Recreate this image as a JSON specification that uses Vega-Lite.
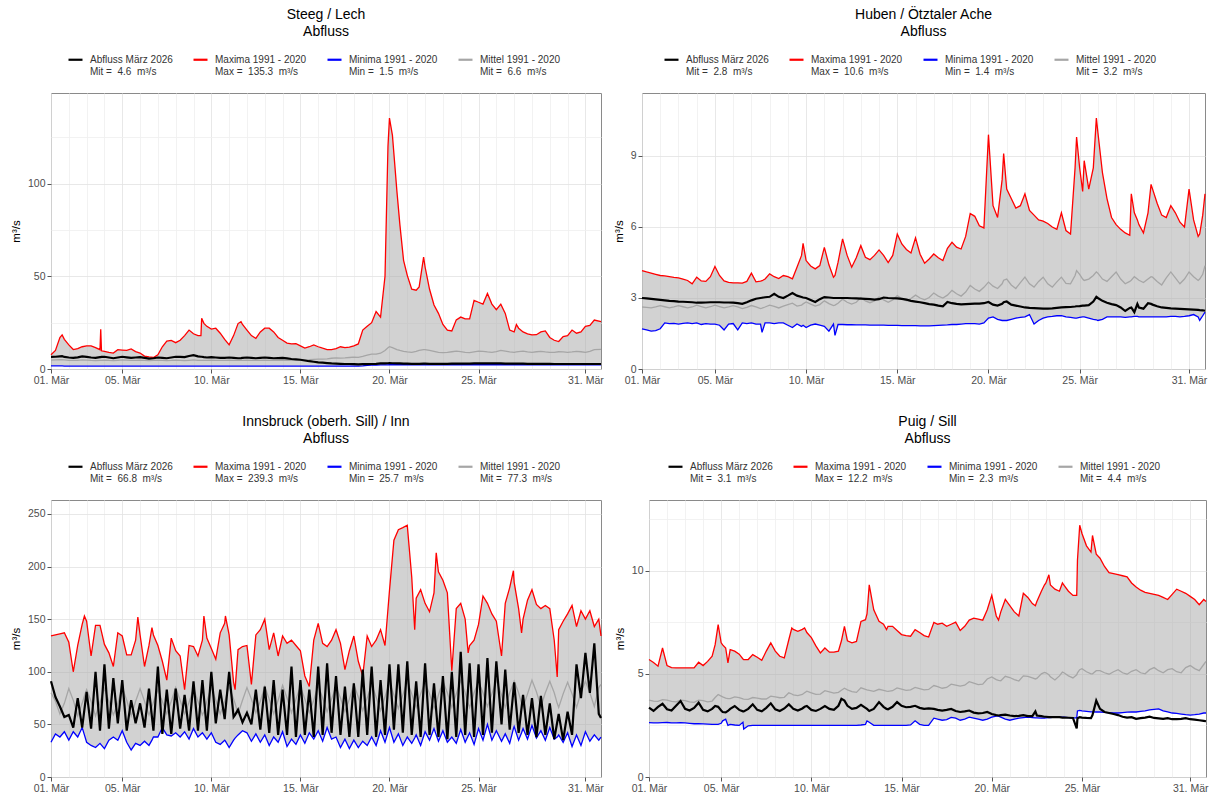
{
"$schema": "https://vega.github.io/schema/vega-lite/v6.json",
"autosize": {"type": "none"},
"padding": {"left": 51, "top": 93, "right": 1159, "bottom": 701},
"config": {
  "font": "Liberation Sans",
  "view": {"stroke": "#8a8a8a", "strokeWidth": 1},
  "axis": {"domain": false, "labelColor": "#4d4d4d", "labelFontSize": 10.5, "tickColor": "#555555", "tickSize": 4, "tickWidth": 1, "titleFontWeight": "normal", "titleColor": "#000000", "titleFontSize": 11.5, "gridWidth": 0.8, "labelPadding": 2},
  "legend": {"direction": "horizontal", "columns": 4, "symbolType": "stroke", "symbolSize": 196, "symbolStrokeWidth": 2.2, "labelFontSize": 10, "labelColor": "#333333", "labelOffset": 6, "columnPadding": 16, "labelLimit": 300},
  "title": {"fontSize": 14, "fontWeight": "normal", "color": "#000000", "anchor": "middle", "frame": "group", "offset": 12, "lineHeight": 17}
},
"datasets": {
"s": [
{"t":"2026-03-01T00:00","mx":7.7,"mn":1.7,"mw":4.8,"q":6.5},
{"t":"2026-03-01T06:00","mx":10,"mn":1.7,"mw":4.9,"q":6.6},
{"t":"2026-03-01T12:00","mx":17,"mn":1.7,"mw":5.0,"q":6.8},
{"t":"2026-03-01T15:00","mx":18.4,"mn":1.7,"mw":5.0,"q":6.9},
{"t":"2026-03-01T18:00","mx":16,"mn":1.6,"mw":4.9,"q":6.5},
{"t":"2026-03-02T00:00","mx":13,"mn":1.6,"mw":4.7,"q":6.2},
{"t":"2026-03-02T06:00","mx":10.5,"mn":1.6,"mw":4.6,"q":6.0},
{"t":"2026-03-02T12:00","mx":11,"mn":1.6,"mw":4.7,"q":6.3},
{"t":"2026-03-02T18:00","mx":12,"mn":1.6,"mw":4.9,"q":6.8},
{"t":"2026-03-03T00:00","mx":12.5,"mn":1.6,"mw":4.8,"q":6.5},
{"t":"2026-03-03T06:00","mx":12.5,"mn":1.6,"mw":4.6,"q":6.2},
{"t":"2026-03-03T12:00","mx":11.5,"mn":1.6,"mw":4.5,"q":6.0},
{"t":"2026-03-03T18:00","mx":10.4,"mn":1.6,"mw":4.7,"q":6.4},
{"t":"2026-03-03T19:00","mx":21.4,"mn":1.6,"mw":4.7,"q":6.4},
{"t":"2026-03-03T20:00","mx":9.8,"mn":1.6,"mw":4.7,"q":6.5},
{"t":"2026-03-04T00:00","mx":9.5,"mn":1.6,"mw":4.8,"q":6.6},
{"t":"2026-03-04T06:00","mx":9.0,"mn":1.6,"mw":4.6,"q":6.2},
{"t":"2026-03-04T12:00","mx":8.6,"mn":1.6,"mw":4.5,"q":5.8},
{"t":"2026-03-04T18:00","mx":10.4,"mn":1.6,"mw":4.7,"q":6.2},
{"t":"2026-03-05T00:00","mx":10.2,"mn":1.6,"mw":4.9,"q":6.6},
{"t":"2026-03-05T06:00","mx":10,"mn":1.5,"mw":4.8,"q":6.3},
{"t":"2026-03-05T12:00","mx":10.8,"mn":1.5,"mw":4.6,"q":6.0},
{"t":"2026-03-05T18:00","mx":9.4,"mn":1.5,"mw":4.7,"q":6.2},
{"t":"2026-03-06T00:00","mx":8.6,"mn":1.5,"mw":4.8,"q":6.4},
{"t":"2026-03-06T06:00","mx":7.0,"mn":1.5,"mw":4.6,"q":6.0},
{"t":"2026-03-06T12:00","mx":6.5,"mn":1.5,"mw":4.5,"q":5.6},
{"t":"2026-03-06T18:00","mx":6.2,"mn":1.5,"mw":4.6,"q":5.8},
{"t":"2026-03-07T00:00","mx":7.7,"mn":1.5,"mw":4.8,"q":6.2},
{"t":"2026-03-07T06:00","mx":12,"mn":1.5,"mw":4.7,"q":6.0},
{"t":"2026-03-07T12:00","mx":15,"mn":1.5,"mw":4.5,"q":5.8},
{"t":"2026-03-07T18:00","mx":15.4,"mn":1.5,"mw":4.6,"q":6.2},
{"t":"2026-03-08T00:00","mx":14.2,"mn":1.5,"mw":4.8,"q":6.6},
{"t":"2026-03-08T06:00","mx":15.5,"mn":1.5,"mw":4.7,"q":6.5},
{"t":"2026-03-08T12:00","mx":18,"mn":1.5,"mw":4.5,"q":6.4},
{"t":"2026-03-08T18:00","mx":21,"mn":1.5,"mw":4.7,"q":7.0},
{"t":"2026-03-09T00:00","mx":19,"mn":1.5,"mw":4.9,"q":7.5},
{"t":"2026-03-09T06:00","mx":18,"mn":1.5,"mw":4.7,"q":6.8},
{"t":"2026-03-09T10:00","mx":18,"mn":1.5,"mw":4.7,"q":6.6},
{"t":"2026-03-09T11:00","mx":27.3,"mn":1.5,"mw":4.7,"q":6.6},
{"t":"2026-03-09T14:00","mx":24.6,"mn":1.5,"mw":4.6,"q":6.4},
{"t":"2026-03-09T18:00","mx":23,"mn":1.5,"mw":4.6,"q":6.2},
{"t":"2026-03-10T00:00","mx":21.5,"mn":1.5,"mw":4.8,"q":6.4},
{"t":"2026-03-10T06:00","mx":22,"mn":1.5,"mw":4.7,"q":6.2},
{"t":"2026-03-10T12:00","mx":19.3,"mn":1.5,"mw":4.6,"q":6.0},
{"t":"2026-03-10T18:00","mx":16,"mn":1.5,"mw":4.7,"q":6.0},
{"t":"2026-03-11T00:00","mx":13,"mn":1.5,"mw":4.8,"q":6.2},
{"t":"2026-03-11T06:00","mx":18,"mn":1.5,"mw":4.7,"q":6.0},
{"t":"2026-03-11T12:00","mx":24.5,"mn":1.5,"mw":4.6,"q":5.8},
{"t":"2026-03-11T16:00","mx":25.5,"mn":1.5,"mw":4.6,"q":5.9},
{"t":"2026-03-11T18:00","mx":24,"mn":1.5,"mw":4.7,"q":6.0},
{"t":"2026-03-12T00:00","mx":21,"mn":1.5,"mw":4.8,"q":6.2},
{"t":"2026-03-12T06:00","mx":18,"mn":1.5,"mw":4.7,"q":6.0},
{"t":"2026-03-12T12:00","mx":16.5,"mn":1.5,"mw":4.6,"q":5.8},
{"t":"2026-03-12T18:00","mx":20,"mn":1.5,"mw":4.7,"q":6.0},
{"t":"2026-03-13T00:00","mx":22,"mn":1.5,"mw":4.8,"q":6.2},
{"t":"2026-03-13T06:00","mx":22,"mn":1.5,"mw":4.7,"q":6.0},
{"t":"2026-03-13T12:00","mx":20,"mn":1.5,"mw":4.6,"q":5.8},
{"t":"2026-03-13T18:00","mx":17,"mn":1.5,"mw":4.7,"q":5.9},
{"t":"2026-03-14T00:00","mx":15.5,"mn":1.5,"mw":4.8,"q":6.0},
{"t":"2026-03-14T06:00","mx":14,"mn":1.5,"mw":4.7,"q":5.7},
{"t":"2026-03-14T12:00","mx":13.5,"mn":1.5,"mw":4.7,"q":5.4},
{"t":"2026-03-14T18:00","mx":13.6,"mn":1.5,"mw":4.9,"q":5.2},
{"t":"2026-03-15T00:00","mx":12.5,"mn":1.5,"mw":5.0,"q":5.0},
{"t":"2026-03-15T06:00","mx":11.3,"mn":1.5,"mw":4.9,"q":4.6},
{"t":"2026-03-15T12:00","mx":12,"mn":1.5,"mw":5.0,"q":4.2},
{"t":"2026-03-15T18:00","mx":13,"mn":1.5,"mw":5.2,"q":3.9},
{"t":"2026-03-16T00:00","mx":12,"mn":1.5,"mw":5.3,"q":3.6},
{"t":"2026-03-16T06:00","mx":11.2,"mn":1.5,"mw":5.3,"q":3.4},
{"t":"2026-03-16T12:00","mx":10.5,"mn":1.5,"mw":5.5,"q":3.2},
{"t":"2026-03-16T18:00","mx":10.4,"mn":1.5,"mw":5.8,"q":3.0},
{"t":"2026-03-17T00:00","mx":11,"mn":1.5,"mw":6.0,"q":2.9},
{"t":"2026-03-17T06:00","mx":12,"mn":1.5,"mw":5.9,"q":2.8},
{"t":"2026-03-17T12:00","mx":11.5,"mn":1.5,"mw":6.0,"q":2.7},
{"t":"2026-03-17T18:00","mx":11.8,"mn":1.5,"mw":6.2,"q":2.7},
{"t":"2026-03-18T00:00","mx":12.5,"mn":1.5,"mw":6.4,"q":2.6},
{"t":"2026-03-18T06:00","mx":13.5,"mn":1.5,"mw":6.3,"q":2.5},
{"t":"2026-03-18T12:00","mx":21,"mn":1.7,"mw":6.8,"q":2.6},
{"t":"2026-03-18T18:00","mx":23,"mn":2.0,"mw":7.5,"q":2.6},
{"t":"2026-03-19T00:00","mx":25,"mn":2.1,"mw":8.0,"q":2.7},
{"t":"2026-03-19T06:00","mx":31,"mn":2.1,"mw":8.0,"q":2.8},
{"t":"2026-03-19T12:00","mx":28,"mn":2.2,"mw":8.5,"q":3.0},
{"t":"2026-03-19T18:00","mx":50,"mn":2.2,"mw":10,"q":3.0},
{"t":"2026-03-19T22:00","mx":120,"mn":2.2,"mw":11.5,"q":3.1},
{"t":"2026-03-20T00:00","mx":135.3,"mn":2.3,"mw":12,"q":3.2},
{"t":"2026-03-20T04:00","mx":126,"mn":2.3,"mw":11.5,"q":3.1},
{"t":"2026-03-20T10:00","mx":96,"mn":2.3,"mw":10.5,"q":3.0},
{"t":"2026-03-20T14:00","mx":78,"mn":2.3,"mw":10,"q":3.0},
{"t":"2026-03-20T19:00","mx":58.6,"mn":2.3,"mw":9.5,"q":2.9},
{"t":"2026-03-21T00:00","mx":50.5,"mn":2.3,"mw":9.2,"q":2.9},
{"t":"2026-03-21T06:00","mx":43,"mn":2.3,"mw":9.0,"q":2.8},
{"t":"2026-03-21T12:00","mx":42.5,"mn":2.3,"mw":9.5,"q":2.8},
{"t":"2026-03-21T16:00","mx":44.3,"mn":2.3,"mw":10,"q":2.8},
{"t":"2026-03-21T22:00","mx":60.4,"mn":2.3,"mw":10.5,"q":2.9},
{"t":"2026-03-22T00:00","mx":55,"mn":2.3,"mw":10.5,"q":2.9},
{"t":"2026-03-22T06:00","mx":43,"mn":2.3,"mw":10,"q":2.8},
{"t":"2026-03-22T12:00","mx":34.5,"mn":2.3,"mw":9.5,"q":2.8},
{"t":"2026-03-22T18:00","mx":30,"mn":2.3,"mw":9.0,"q":2.8},
{"t":"2026-03-23T00:00","mx":24,"mn":2.3,"mw":8.8,"q":2.8},
{"t":"2026-03-23T06:00","mx":21,"mn":2.3,"mw":9.0,"q":2.8},
{"t":"2026-03-23T12:00","mx":20.5,"mn":2.3,"mw":9.3,"q":2.9},
{"t":"2026-03-23T18:00","mx":26.5,"mn":2.3,"mw":9.6,"q":2.9},
{"t":"2026-03-24T00:00","mx":28,"mn":2.3,"mw":9.4,"q":2.9},
{"t":"2026-03-24T06:00","mx":27,"mn":2.3,"mw":9.0,"q":2.9},
{"t":"2026-03-24T12:00","mx":27,"mn":2.3,"mw":8.8,"q":2.9},
{"t":"2026-03-24T18:00","mx":37,"mn":2.3,"mw":9.2,"q":3.0},
{"t":"2026-03-25T00:00","mx":36,"mn":2.3,"mw":9.6,"q":3.0},
{"t":"2026-03-25T06:00","mx":35,"mn":2.3,"mw":9.5,"q":3.0},
{"t":"2026-03-25T12:00","mx":40.7,"mn":2.3,"mw":9.2,"q":3.0},
{"t":"2026-03-25T18:00","mx":35,"mn":2.3,"mw":9.0,"q":3.0},
{"t":"2026-03-26T00:00","mx":32,"mn":2.3,"mw":9.4,"q":3.0},
{"t":"2026-03-26T06:00","mx":35,"mn":2.3,"mw":10,"q":3.0},
{"t":"2026-03-26T12:00","mx":30,"mn":2.3,"mw":9.6,"q":2.9},
{"t":"2026-03-26T18:00","mx":21,"mn":2.3,"mw":9.2,"q":2.9},
{"t":"2026-03-27T00:00","mx":20,"mn":2.3,"mw":9.0,"q":2.9},
{"t":"2026-03-27T03:00","mx":24,"mn":2.3,"mw":9.2,"q":2.9},
{"t":"2026-03-27T06:00","mx":22,"mn":2.3,"mw":9.4,"q":2.9},
{"t":"2026-03-27T12:00","mx":20,"mn":2.3,"mw":9.6,"q":2.9},
{"t":"2026-03-27T18:00","mx":19,"mn":2.2,"mw":9.2,"q":2.8},
{"t":"2026-03-28T00:00","mx":18.4,"mn":2.2,"mw":9.0,"q":2.8},
{"t":"2026-03-28T06:00","mx":18.5,"mn":2.2,"mw":9.3,"q":2.8},
{"t":"2026-03-28T12:00","mx":20,"mn":2.2,"mw":9.5,"q":2.8},
{"t":"2026-03-28T18:00","mx":20.5,"mn":2.2,"mw":9.2,"q":2.8},
{"t":"2026-03-29T00:00","mx":17,"mn":2.2,"mw":9.0,"q":2.8},
{"t":"2026-03-29T06:00","mx":15.5,"mn":2.2,"mw":9.0,"q":2.7},
{"t":"2026-03-29T12:00","mx":14.8,"mn":2.2,"mw":9.3,"q":2.7},
{"t":"2026-03-29T18:00","mx":17.5,"mn":2.2,"mw":9.2,"q":2.7},
{"t":"2026-03-30T00:00","mx":18,"mn":2.2,"mw":9.0,"q":2.7},
{"t":"2026-03-30T06:00","mx":21,"mn":2.2,"mw":9.2,"q":2.7},
{"t":"2026-03-30T12:00","mx":19.3,"mn":2.2,"mw":9.5,"q":2.7},
{"t":"2026-03-30T18:00","mx":20,"mn":2.2,"mw":9.3,"q":2.7},
{"t":"2026-03-31T00:00","mx":23,"mn":2.2,"mw":9.0,"q":2.7},
{"t":"2026-03-31T06:00","mx":23.5,"mn":2.2,"mw":9.5,"q":2.7},
{"t":"2026-03-31T12:00","mx":26.4,"mn":2.2,"mw":10.5,"q":2.7},
{"t":"2026-03-31T21:00","mx":25.5,"mn":2.2,"mw":10.6,"q":2.7}
],
"h": [
{"t":"2026-03-01T00:00","mx":4.16,"mn":1.70,"mw":2.62,"q":3.00},
{"t":"2026-03-01T06:00","mx":4.10,"mn":1.65,"mw":2.60,"q":2.98},
{"t":"2026-03-01T12:00","mx":4.05,"mn":1.60,"mw":2.58,"q":2.96},
{"t":"2026-03-01T18:00","mx":4.00,"mn":1.62,"mw":2.62,"q":2.94},
{"t":"2026-03-02T00:00","mx":3.95,"mn":1.70,"mw":2.68,"q":2.92},
{"t":"2026-03-02T06:00","mx":3.93,"mn":1.95,"mw":2.63,"q":2.90},
{"t":"2026-03-02T12:00","mx":3.90,"mn":1.92,"mw":2.58,"q":2.88},
{"t":"2026-03-02T18:00","mx":3.87,"mn":1.93,"mw":2.62,"q":2.87},
{"t":"2026-03-03T00:00","mx":3.85,"mn":1.90,"mw":2.68,"q":2.85},
{"t":"2026-03-03T06:00","mx":3.80,"mn":1.93,"mw":2.63,"q":2.84},
{"t":"2026-03-03T12:00","mx":3.74,"mn":1.95,"mw":2.58,"q":2.83},
{"t":"2026-03-03T18:00","mx":3.60,"mn":1.92,"mw":2.62,"q":2.82},
{"t":"2026-03-04T00:00","mx":3.88,"mn":1.95,"mw":2.70,"q":2.80},
{"t":"2026-03-04T06:00","mx":3.72,"mn":1.88,"mw":2.64,"q":2.80},
{"t":"2026-03-04T12:00","mx":3.70,"mn":1.92,"mw":2.58,"q":2.81},
{"t":"2026-03-04T18:00","mx":3.90,"mn":1.90,"mw":2.63,"q":2.82},
{"t":"2026-03-05T00:00","mx":4.33,"mn":1.90,"mw":2.70,"q":2.82},
{"t":"2026-03-05T06:00","mx":3.95,"mn":1.85,"mw":2.64,"q":2.82},
{"t":"2026-03-05T12:00","mx":3.72,"mn":1.65,"mw":2.58,"q":2.81},
{"t":"2026-03-05T18:00","mx":3.66,"mn":1.90,"mw":2.62,"q":2.81},
{"t":"2026-03-06T00:00","mx":3.64,"mn":1.92,"mw":2.68,"q":2.80},
{"t":"2026-03-06T06:00","mx":3.64,"mn":1.65,"mw":2.62,"q":2.78},
{"t":"2026-03-06T12:00","mx":3.63,"mn":1.95,"mw":2.55,"q":2.75},
{"t":"2026-03-06T18:00","mx":3.70,"mn":1.92,"mw":2.60,"q":2.82},
{"t":"2026-03-07T00:00","mx":4.05,"mn":1.95,"mw":2.68,"q":2.90},
{"t":"2026-03-07T06:00","mx":3.68,"mn":1.90,"mw":2.62,"q":2.97},
{"t":"2026-03-07T12:00","mx":3.71,"mn":1.90,"mw":2.55,"q":3.00},
{"t":"2026-03-07T14:00","mx":3.73,"mn":1.55,"mw":2.57,"q":3.01},
{"t":"2026-03-07T18:00","mx":3.80,"mn":1.95,"mw":2.62,"q":3.03},
{"t":"2026-03-08T00:00","mx":4.02,"mn":1.95,"mw":2.70,"q":3.05},
{"t":"2026-03-08T06:00","mx":3.90,"mn":1.92,"mw":2.65,"q":3.18},
{"t":"2026-03-08T12:00","mx":3.82,"mn":1.95,"mw":2.58,"q":3.05},
{"t":"2026-03-08T18:00","mx":3.95,"mn":1.95,"mw":2.66,"q":3.00},
{"t":"2026-03-09T00:00","mx":3.90,"mn":1.85,"mw":2.72,"q":3.10},
{"t":"2026-03-09T06:00","mx":3.81,"mn":1.75,"mw":2.78,"q":3.21},
{"t":"2026-03-09T12:00","mx":4.30,"mn":1.90,"mw":2.66,"q":3.10},
{"t":"2026-03-09T18:00","mx":4.80,"mn":1.80,"mw":2.70,"q":3.04},
{"t":"2026-03-09T20:00","mx":5.31,"mn":1.85,"mw":2.75,"q":3.02},
{"t":"2026-03-10T00:00","mx":4.58,"mn":1.75,"mw":2.83,"q":3.00},
{"t":"2026-03-10T06:00","mx":4.35,"mn":1.85,"mw":2.74,"q":2.92},
{"t":"2026-03-10T12:00","mx":4.23,"mn":1.90,"mw":2.66,"q":2.83},
{"t":"2026-03-10T18:00","mx":4.37,"mn":1.85,"mw":2.72,"q":2.95},
{"t":"2026-03-11T00:00","mx":5.14,"mn":1.80,"mw":2.88,"q":3.04},
{"t":"2026-03-11T06:00","mx":4.40,"mn":1.60,"mw":2.76,"q":3.02},
{"t":"2026-03-11T12:00","mx":3.88,"mn":1.90,"mw":2.68,"q":3.00},
{"t":"2026-03-11T14:00","mx":3.95,"mn":1.42,"mw":2.70,"q":3.00},
{"t":"2026-03-11T18:00","mx":4.50,"mn":1.88,"mw":2.78,"q":3.00},
{"t":"2026-03-12T00:00","mx":5.50,"mn":1.88,"mw":2.95,"q":3.00},
{"t":"2026-03-12T06:00","mx":4.80,"mn":1.87,"mw":2.82,"q":3.00},
{"t":"2026-03-12T12:00","mx":4.30,"mn":1.87,"mw":2.74,"q":2.99},
{"t":"2026-03-12T18:00","mx":4.70,"mn":1.86,"mw":2.82,"q":2.98},
{"t":"2026-03-13T00:00","mx":5.21,"mn":1.86,"mw":3.02,"q":2.97},
{"t":"2026-03-13T06:00","mx":4.72,"mn":1.86,"mw":2.88,"q":2.96},
{"t":"2026-03-13T12:00","mx":4.62,"mn":1.85,"mw":2.80,"q":2.95},
{"t":"2026-03-13T18:00","mx":4.80,"mn":1.85,"mw":2.88,"q":2.93},
{"t":"2026-03-14T00:00","mx":5.03,"mn":1.85,"mw":3.04,"q":2.95},
{"t":"2026-03-14T06:00","mx":4.80,"mn":1.85,"mw":2.92,"q":3.02},
{"t":"2026-03-14T12:00","mx":4.50,"mn":1.84,"mw":2.82,"q":3.00},
{"t":"2026-03-14T18:00","mx":4.80,"mn":1.84,"mw":2.92,"q":2.99},
{"t":"2026-03-15T00:00","mx":5.70,"mn":1.84,"mw":3.10,"q":2.98},
{"t":"2026-03-15T06:00","mx":5.28,"mn":1.83,"mw":2.97,"q":2.96},
{"t":"2026-03-15T12:00","mx":5.05,"mn":1.83,"mw":2.88,"q":2.93},
{"t":"2026-03-15T18:00","mx":4.90,"mn":1.83,"mw":2.98,"q":2.88},
{"t":"2026-03-16T00:00","mx":5.54,"mn":1.83,"mw":3.12,"q":2.85},
{"t":"2026-03-16T06:00","mx":4.85,"mn":1.82,"mw":3.00,"q":2.82},
{"t":"2026-03-16T12:00","mx":4.47,"mn":1.82,"mw":2.92,"q":2.78},
{"t":"2026-03-16T18:00","mx":4.65,"mn":1.82,"mw":3.02,"q":2.74},
{"t":"2026-03-17T00:00","mx":4.86,"mn":1.83,"mw":3.21,"q":2.72},
{"t":"2026-03-17T06:00","mx":4.70,"mn":1.84,"mw":3.08,"q":2.68},
{"t":"2026-03-17T12:00","mx":4.58,"mn":1.85,"mw":3.00,"q":2.65},
{"t":"2026-03-17T18:00","mx":5.10,"mn":1.86,"mw":3.12,"q":2.83},
{"t":"2026-03-18T00:00","mx":5.35,"mn":1.88,"mw":3.32,"q":2.78},
{"t":"2026-03-18T06:00","mx":5.15,"mn":1.88,"mw":3.18,"q":2.75},
{"t":"2026-03-18T12:00","mx":5.07,"mn":1.90,"mw":3.08,"q":2.73},
{"t":"2026-03-18T18:00","mx":5.60,"mn":1.92,"mw":3.25,"q":2.74},
{"t":"2026-03-19T00:00","mx":6.57,"mn":1.92,"mw":3.53,"q":2.75},
{"t":"2026-03-19T06:00","mx":6.45,"mn":1.92,"mw":3.38,"q":2.76},
{"t":"2026-03-19T12:00","mx":6.05,"mn":1.90,"mw":3.28,"q":2.76},
{"t":"2026-03-19T18:00","mx":5.96,"mn":1.95,"mw":3.45,"q":2.78},
{"t":"2026-03-20T00:00","mx":9.90,"mn":2.15,"mw":3.67,"q":2.83},
{"t":"2026-03-20T06:00","mx":6.90,"mn":2.20,"mw":3.50,"q":2.72},
{"t":"2026-03-20T12:00","mx":6.40,"mn":2.10,"mw":3.40,"q":2.68},
{"t":"2026-03-20T18:00","mx":8.00,"mn":2.05,"mw":3.60,"q":2.75},
{"t":"2026-03-20T20:00","mx":9.10,"mn":2.05,"mw":3.75,"q":2.82},
{"t":"2026-03-21T00:00","mx":7.60,"mn":2.05,"mw":3.80,"q":2.85},
{"t":"2026-03-21T06:00","mx":7.20,"mn":2.10,"mw":3.55,"q":2.72},
{"t":"2026-03-21T12:00","mx":6.80,"mn":2.15,"mw":3.40,"q":2.68},
{"t":"2026-03-21T18:00","mx":6.90,"mn":2.18,"mw":3.65,"q":2.64},
{"t":"2026-03-22T00:00","mx":7.40,"mn":2.20,"mw":3.88,"q":2.60},
{"t":"2026-03-22T06:00","mx":6.70,"mn":2.30,"mw":3.60,"q":2.58},
{"t":"2026-03-22T12:00","mx":6.50,"mn":1.90,"mw":3.46,"q":2.57},
{"t":"2026-03-22T18:00","mx":6.30,"mn":2.05,"mw":3.70,"q":2.56},
{"t":"2026-03-23T00:00","mx":6.25,"mn":2.15,"mw":3.88,"q":2.55},
{"t":"2026-03-23T06:00","mx":6.15,"mn":2.20,"mw":3.60,"q":2.55},
{"t":"2026-03-23T12:00","mx":6.00,"mn":2.22,"mw":3.46,"q":2.56},
{"t":"2026-03-23T18:00","mx":5.90,"mn":2.25,"mw":3.68,"q":2.58},
{"t":"2026-03-24T00:00","mx":6.60,"mn":2.25,"mw":3.88,"q":2.60},
{"t":"2026-03-24T06:00","mx":5.85,"mn":2.20,"mw":3.62,"q":2.61},
{"t":"2026-03-24T12:00","mx":5.70,"mn":2.18,"mw":3.60,"q":2.62},
{"t":"2026-03-24T18:00","mx":8.50,"mn":2.15,"mw":3.95,"q":2.64},
{"t":"2026-03-24T20:00","mx":9.80,"mn":2.15,"mw":4.16,"q":2.65},
{"t":"2026-03-25T00:00","mx":8.50,"mn":2.18,"mw":4.00,"q":2.66},
{"t":"2026-03-25T04:00","mx":7.50,"mn":2.20,"mw":3.80,"q":2.68},
{"t":"2026-03-25T06:00","mx":8.80,"mn":2.20,"mw":3.74,"q":2.68},
{"t":"2026-03-25T12:00","mx":7.60,"mn":2.15,"mw":3.80,"q":2.70},
{"t":"2026-03-25T18:00","mx":8.50,"mn":2.10,"mw":3.95,"q":2.85},
{"t":"2026-03-25T22:00","mx":10.60,"mn":2.08,"mw":4.10,"q":3.05},
{"t":"2026-03-26T00:00","mx":10.00,"mn":2.05,"mw":4.05,"q":3.00},
{"t":"2026-03-26T06:00","mx":8.30,"mn":2.10,"mw":3.80,"q":2.88},
{"t":"2026-03-26T12:00","mx":7.20,"mn":2.20,"mw":3.70,"q":2.80},
{"t":"2026-03-26T18:00","mx":6.40,"mn":2.20,"mw":3.90,"q":2.74},
{"t":"2026-03-27T00:00","mx":6.10,"mn":2.20,"mw":4.10,"q":2.70},
{"t":"2026-03-27T06:00","mx":5.90,"mn":2.20,"mw":3.80,"q":2.60},
{"t":"2026-03-27T12:00","mx":5.75,"mn":2.18,"mw":3.60,"q":2.45},
{"t":"2026-03-27T18:00","mx":5.65,"mn":2.20,"mw":3.70,"q":2.58},
{"t":"2026-03-27T20:00","mx":7.40,"mn":2.20,"mw":3.75,"q":2.60},
{"t":"2026-03-28T00:00","mx":6.60,"mn":2.22,"mw":3.90,"q":2.40},
{"t":"2026-03-28T04:00","mx":6.30,"mn":2.22,"mw":3.80,"q":2.75},
{"t":"2026-03-28T06:00","mx":6.10,"mn":2.20,"mw":3.75,"q":2.60},
{"t":"2026-03-28T12:00","mx":5.75,"mn":2.20,"mw":3.65,"q":2.55},
{"t":"2026-03-28T18:00","mx":6.60,"mn":2.20,"mw":3.80,"q":2.78},
{"t":"2026-03-28T22:00","mx":7.80,"mn":2.20,"mw":3.90,"q":2.75},
{"t":"2026-03-29T00:00","mx":7.60,"mn":2.20,"mw":3.88,"q":2.72},
{"t":"2026-03-29T06:00","mx":7.00,"mn":2.20,"mw":3.70,"q":2.65},
{"t":"2026-03-29T12:00","mx":6.50,"mn":2.20,"mw":3.55,"q":2.60},
{"t":"2026-03-29T18:00","mx":6.40,"mn":2.20,"mw":3.85,"q":2.58},
{"t":"2026-03-30T00:00","mx":6.90,"mn":2.22,"mw":4.10,"q":2.56},
{"t":"2026-03-30T06:00","mx":6.60,"mn":2.22,"mw":3.85,"q":2.55},
{"t":"2026-03-30T12:00","mx":6.20,"mn":2.20,"mw":3.60,"q":2.54},
{"t":"2026-03-30T18:00","mx":6.00,"mn":2.22,"mw":3.80,"q":2.53},
{"t":"2026-03-31T00:00","mx":7.60,"mn":2.25,"mw":4.10,"q":2.52},
{"t":"2026-03-31T06:00","mx":6.30,"mn":2.30,"mw":3.90,"q":2.51},
{"t":"2026-03-31T12:00","mx":5.60,"mn":2.20,"mw":3.74,"q":2.50},
{"t":"2026-03-31T14:00","mx":5.70,"mn":2.05,"mw":3.80,"q":2.49},
{"t":"2026-03-31T18:00","mx":6.50,"mn":2.25,"mw":4.00,"q":2.48},
{"t":"2026-03-31T21:00","mx":7.40,"mn":2.40,"mw":4.37,"q":2.46}
],
"i": [
{"t":"2026-03-01T00:00","mx":134,"mn":33,"mw":80,"q":91},
{"t":"2026-03-01T06:00","mx":135,"mn":41,"mw":72,"q":76},
{"t":"2026-03-01T12:00","mx":136,"mn":38,"mw":60,"q":67},
{"t":"2026-03-01T18:00","mx":137,"mn":43,"mw":70,"q":57},
{"t":"2026-03-02T00:00","mx":128,"mn":35,"mw":84,"q":59},
{"t":"2026-03-02T06:00","mx":100,"mn":43,"mw":73,"q":47},
{"t":"2026-03-02T12:00","mx":125,"mn":38,"mw":58,"q":75},
{"t":"2026-03-02T18:00","mx":145,"mn":47,"mw":70,"q":47},
{"t":"2026-03-02T21:00","mx":153,"mn":40,"mw":77,"q":64},
{"t":"2026-03-03T00:00","mx":148,"mn":33,"mw":83,"q":81},
{"t":"2026-03-03T06:00","mx":115,"mn":30,"mw":72,"q":46},
{"t":"2026-03-03T12:00","mx":144,"mn":28,"mw":58,"q":100},
{"t":"2026-03-03T18:00","mx":144,"mn":32,"mw":71,"q":44},
{"t":"2026-03-04T00:00","mx":126,"mn":27,"mw":84,"q":107},
{"t":"2026-03-04T06:00","mx":118,"mn":35,"mw":72,"q":46},
{"t":"2026-03-04T12:00","mx":105,"mn":38,"mw":59,"q":94},
{"t":"2026-03-04T18:00","mx":137,"mn":35,"mw":70,"q":51},
{"t":"2026-03-05T00:00","mx":134,"mn":44,"mw":85,"q":92},
{"t":"2026-03-05T06:00","mx":116,"mn":33,"mw":73,"q":44},
{"t":"2026-03-05T12:00","mx":116,"mn":25.7,"mw":58,"q":73},
{"t":"2026-03-05T18:00","mx":130,"mn":32,"mw":72,"q":51},
{"t":"2026-03-05T21:00","mx":152,"mn":31,"mw":78,"q":60},
{"t":"2026-03-06T00:00","mx":135,"mn":30,"mw":84,"q":70},
{"t":"2026-03-06T06:00","mx":105,"mn":34,"mw":72,"q":47},
{"t":"2026-03-06T12:00","mx":125,"mn":30,"mw":59,"q":84},
{"t":"2026-03-06T16:00","mx":142,"mn":35,"mw":67,"q":57},
{"t":"2026-03-06T18:00","mx":135,"mn":38,"mw":71,"q":44},
{"t":"2026-03-07T00:00","mx":125,"mn":38,"mw":83,"q":105},
{"t":"2026-03-07T06:00","mx":110,"mn":47,"mw":72,"q":41},
{"t":"2026-03-07T12:00","mx":92,"mn":40,"mw":60,"q":83},
{"t":"2026-03-07T18:00","mx":132,"mn":39,"mw":72,"q":41},
{"t":"2026-03-08T00:00","mx":120,"mn":42,"mw":85,"q":84},
{"t":"2026-03-08T06:00","mx":115,"mn":38,"mw":73,"q":46},
{"t":"2026-03-08T12:00","mx":83,"mn":43,"mw":60,"q":78},
{"t":"2026-03-08T18:00","mx":125,"mn":36,"mw":71,"q":44},
{"t":"2026-03-09T00:00","mx":124,"mn":46,"mw":84,"q":91},
{"t":"2026-03-09T06:00","mx":115,"mn":38,"mw":72,"q":44},
{"t":"2026-03-09T12:00","mx":130,"mn":42,"mw":59,"q":92},
{"t":"2026-03-09T14:00","mx":153,"mn":40,"mw":62,"q":76},
{"t":"2026-03-09T18:00","mx":132,"mn":36,"mw":72,"q":44},
{"t":"2026-03-10T00:00","mx":122,"mn":42,"mw":85,"q":100},
{"t":"2026-03-10T06:00","mx":112,"mn":33,"mw":73,"q":51},
{"t":"2026-03-10T12:00","mx":137,"mn":31,"mw":60,"q":83},
{"t":"2026-03-10T18:00","mx":146,"mn":35,"mw":72,"q":55},
{"t":"2026-03-10T19:00","mx":153,"mn":34,"mw":74,"q":63},
{"t":"2026-03-11T00:00","mx":135,"mn":28,"mw":86,"q":100},
{"t":"2026-03-11T06:00","mx":90,"mn":35,"mw":74,"q":57},
{"t":"2026-03-11T08:00","mx":83,"mn":37,"mw":70,"q":59},
{"t":"2026-03-11T12:00","mx":121,"mn":40,"mw":60,"q":64},
{"t":"2026-03-11T18:00","mx":124,"mn":44,"mw":73,"q":52},
{"t":"2026-03-12T00:00","mx":125,"mn":42,"mw":85,"q":61},
{"t":"2026-03-12T06:00","mx":88,"mn":34,"mw":74,"q":50},
{"t":"2026-03-12T12:00","mx":135,"mn":41,"mw":61,"q":83},
{"t":"2026-03-12T18:00","mx":140,"mn":33,"mw":72,"q":45},
{"t":"2026-03-13T00:00","mx":150,"mn":40,"mw":86,"q":86},
{"t":"2026-03-13T06:00","mx":121,"mn":30,"mw":74,"q":42},
{"t":"2026-03-13T12:00","mx":137,"mn":38,"mw":60,"q":92},
{"t":"2026-03-13T18:00","mx":115,"mn":33,"mw":73,"q":40},
{"t":"2026-03-14T00:00","mx":134,"mn":43,"mw":87,"q":83},
{"t":"2026-03-14T06:00","mx":127,"mn":29,"mw":75,"q":40},
{"t":"2026-03-14T12:00","mx":130,"mn":36,"mw":61,"q":105},
{"t":"2026-03-14T18:00","mx":125,"mn":31,"mw":74,"q":38},
{"t":"2026-03-15T00:00","mx":120,"mn":40,"mw":86,"q":92},
{"t":"2026-03-15T06:00","mx":96,"mn":32,"mw":74,"q":40},
{"t":"2026-03-15T12:00","mx":86,"mn":42,"mw":61,"q":83},
{"t":"2026-03-15T18:00","mx":130,"mn":36,"mw":73,"q":38},
{"t":"2026-03-16T00:00","mx":146,"mn":44,"mw":87,"q":105},
{"t":"2026-03-16T06:00","mx":127,"mn":34,"mw":75,"q":40},
{"t":"2026-03-16T12:00","mx":124,"mn":47,"mw":62,"q":108},
{"t":"2026-03-16T18:00","mx":130,"mn":36,"mw":74,"q":42},
{"t":"2026-03-17T00:00","mx":140,"mn":38,"mw":86,"q":96},
{"t":"2026-03-17T06:00","mx":127,"mn":28,"mw":75,"q":40},
{"t":"2026-03-17T12:00","mx":102,"mn":36,"mw":62,"q":86},
{"t":"2026-03-17T18:00","mx":120,"mn":27,"mw":74,"q":38},
{"t":"2026-03-18T00:00","mx":134,"mn":35,"mw":88,"q":89},
{"t":"2026-03-18T06:00","mx":110,"mn":28,"mw":76,"q":38},
{"t":"2026-03-18T12:00","mx":96,"mn":34,"mw":63,"q":102},
{"t":"2026-03-18T18:00","mx":134,"mn":30,"mw":75,"q":40},
{"t":"2026-03-19T00:00","mx":124,"mn":38,"mw":88,"q":105},
{"t":"2026-03-19T06:00","mx":130,"mn":30,"mw":76,"q":38},
{"t":"2026-03-19T12:00","mx":140,"mn":44,"mw":63,"q":92},
{"t":"2026-03-19T18:00","mx":125,"mn":33,"mw":76,"q":40},
{"t":"2026-03-20T00:00","mx":177,"mn":47,"mw":90,"q":107},
{"t":"2026-03-20T06:00","mx":225,"mn":33,"mw":78,"q":45},
{"t":"2026-03-20T12:00","mx":235,"mn":41,"mw":65,"q":107},
{"t":"2026-03-20T18:00","mx":237,"mn":30,"mw":78,"q":42},
{"t":"2026-03-21T00:00","mx":239.3,"mn":38,"mw":91,"q":110},
{"t":"2026-03-21T06:00","mx":190,"mn":32,"mw":79,"q":40},
{"t":"2026-03-21T10:00","mx":140,"mn":37,"mw":70,"q":74},
{"t":"2026-03-21T12:00","mx":170,"mn":40,"mw":66,"q":91},
{"t":"2026-03-21T18:00","mx":178,"mn":30,"mw":79,"q":38},
{"t":"2026-03-22T00:00","mx":165,"mn":43,"mw":90,"q":108},
{"t":"2026-03-22T06:00","mx":157,"mn":35,"mw":79,"q":40},
{"t":"2026-03-22T12:00","mx":175,"mn":46,"mw":65,"q":89},
{"t":"2026-03-22T15:00","mx":213,"mn":40,"mw":70,"q":63},
{"t":"2026-03-22T18:00","mx":195,"mn":34,"mw":78,"q":38},
{"t":"2026-03-23T00:00","mx":187,"mn":44,"mw":91,"q":96},
{"t":"2026-03-23T06:00","mx":175,"mn":33,"mw":80,"q":36},
{"t":"2026-03-23T12:00","mx":101,"mn":38,"mw":66,"q":100},
{"t":"2026-03-23T18:00","mx":160,"mn":32,"mw":79,"q":38},
{"t":"2026-03-24T00:00","mx":165,"mn":45,"mw":92,"q":119},
{"t":"2026-03-24T06:00","mx":150,"mn":33,"mw":80,"q":40},
{"t":"2026-03-24T10:00","mx":118,"mn":39,"mw":70,"q":85},
{"t":"2026-03-24T12:00","mx":125,"mn":42,"mw":66,"q":108},
{"t":"2026-03-24T18:00","mx":130,"mn":31,"mw":80,"q":38},
{"t":"2026-03-25T00:00","mx":145,"mn":46,"mw":91,"q":107},
{"t":"2026-03-25T06:00","mx":172,"mn":35,"mw":80,"q":40},
{"t":"2026-03-25T12:00","mx":165,"mn":50,"mw":67,"q":113},
{"t":"2026-03-25T18:00","mx":155,"mn":35,"mw":79,"q":42},
{"t":"2026-03-26T00:00","mx":148,"mn":44,"mw":92,"q":110},
{"t":"2026-03-26T07:00","mx":115,"mn":34,"mw":78,"q":50},
{"t":"2026-03-26T12:00","mx":165,"mn":41,"mw":66,"q":102},
{"t":"2026-03-26T18:00","mx":180,"mn":32,"mw":80,"q":45},
{"t":"2026-03-26T23:00","mx":196,"mn":46,"mw":89,"q":82},
{"t":"2026-03-27T00:00","mx":185,"mn":48,"mw":91,"q":90},
{"t":"2026-03-27T06:00","mx":160,"mn":35,"mw":80,"q":42},
{"t":"2026-03-27T10:00","mx":137,"mn":42,"mw":70,"q":66},
{"t":"2026-03-27T12:00","mx":150,"mn":46,"mw":66,"q":78},
{"t":"2026-03-27T18:00","mx":168,"mn":36,"mw":79,"q":40},
{"t":"2026-03-28T00:00","mx":178,"mn":49,"mw":92,"q":75},
{"t":"2026-03-28T06:00","mx":164,"mn":37,"mw":81,"q":38},
{"t":"2026-03-28T12:00","mx":160,"mn":44,"mw":67,"q":77},
{"t":"2026-03-28T18:00","mx":163,"mn":35,"mw":80,"q":40},
{"t":"2026-03-29T00:00","mx":160,"mn":47,"mw":91,"q":70},
{"t":"2026-03-29T06:00","mx":130,"mn":36,"mw":80,"q":36},
{"t":"2026-03-29T10:00","mx":95,"mn":38,"mw":70,"q":52},
{"t":"2026-03-29T12:00","mx":140,"mn":40,"mw":66,"q":60},
{"t":"2026-03-29T18:00","mx":148,"mn":33,"mw":79,"q":35},
{"t":"2026-03-30T00:00","mx":155,"mn":42,"mw":90,"q":62},
{"t":"2026-03-30T06:00","mx":163,"mn":29,"mw":79,"q":40},
{"t":"2026-03-30T12:00","mx":143,"mn":40,"mw":66,"q":107},
{"t":"2026-03-30T18:00","mx":158,"mn":30,"mw":80,"q":75},
{"t":"2026-03-31T00:00","mx":150,"mn":43,"mw":91,"q":118},
{"t":"2026-03-31T06:00","mx":158,"mn":34,"mw":80,"q":80},
{"t":"2026-03-31T12:00","mx":143,"mn":40,"mw":67,"q":127},
{"t":"2026-03-31T18:00","mx":150,"mn":35,"mw":85,"q":60},
{"t":"2026-03-31T21:00","mx":134,"mn":38,"mw":88,"q":56}
],
"p": [
{"t":"2026-03-01T00:00","mx":5.69,"mn":2.63,"mw":3.73,"q":3.36},
{"t":"2026-03-01T06:00","mx":5.55,"mn":2.62,"mw":3.68,"q":3.20},
{"t":"2026-03-01T12:00","mx":5.37,"mn":2.62,"mw":3.66,"q":3.40},
{"t":"2026-03-01T18:00","mx":6.25,"mn":2.63,"mw":3.75,"q":3.55},
{"t":"2026-03-02T00:00","mx":5.40,"mn":2.64,"mw":3.72,"q":3.28},
{"t":"2026-03-02T06:00","mx":5.30,"mn":2.62,"mw":3.66,"q":3.22},
{"t":"2026-03-02T12:00","mx":5.29,"mn":2.62,"mw":3.64,"q":3.45},
{"t":"2026-03-02T18:00","mx":5.29,"mn":2.63,"mw":3.72,"q":3.68},
{"t":"2026-03-03T00:00","mx":5.29,"mn":2.62,"mw":3.70,"q":3.30},
{"t":"2026-03-03T06:00","mx":5.29,"mn":2.60,"mw":3.64,"q":3.22},
{"t":"2026-03-03T12:00","mx":5.29,"mn":2.58,"mw":3.62,"q":3.35},
{"t":"2026-03-03T18:00","mx":5.56,"mn":2.58,"mw":3.72,"q":3.60},
{"t":"2026-03-04T00:00","mx":5.40,"mn":2.57,"mw":3.70,"q":3.25},
{"t":"2026-03-04T06:00","mx":5.60,"mn":2.56,"mw":3.64,"q":3.18},
{"t":"2026-03-04T12:00","mx":5.85,"mn":2.55,"mw":3.68,"q":3.30},
{"t":"2026-03-04T16:00","mx":6.41,"mn":2.55,"mw":3.85,"q":3.44},
{"t":"2026-03-04T20:00","mx":7.38,"mn":2.55,"mw":4.00,"q":3.40},
{"t":"2026-03-05T00:00","mx":6.50,"mn":2.60,"mw":3.92,"q":3.22},
{"t":"2026-03-05T02:00","mx":6.40,"mn":2.72,"mw":3.88,"q":3.15},
{"t":"2026-03-05T06:00","mx":6.25,"mn":2.80,"mw":3.82,"q":3.13},
{"t":"2026-03-05T09:00","mx":5.53,"mn":2.50,"mw":3.80,"q":3.20},
{"t":"2026-03-05T12:00","mx":6.17,"mn":2.55,"mw":3.80,"q":3.30},
{"t":"2026-03-05T18:00","mx":6.10,"mn":2.52,"mw":3.88,"q":3.44},
{"t":"2026-03-06T00:00","mx":5.95,"mn":2.50,"mw":3.85,"q":3.25},
{"t":"2026-03-06T05:00","mx":5.72,"mn":2.65,"mw":3.78,"q":3.18},
{"t":"2026-03-06T06:00","mx":5.69,"mn":2.32,"mw":3.77,"q":3.18},
{"t":"2026-03-06T12:00","mx":5.69,"mn":2.48,"mw":3.76,"q":3.30},
{"t":"2026-03-06T18:00","mx":5.93,"mn":2.50,"mw":3.85,"q":3.52},
{"t":"2026-03-07T00:00","mx":5.80,"mn":2.50,"mw":3.82,"q":3.25},
{"t":"2026-03-07T06:00","mx":5.65,"mn":2.50,"mw":3.78,"q":3.18},
{"t":"2026-03-07T12:00","mx":6.10,"mn":2.50,"mw":3.78,"q":3.35},
{"t":"2026-03-07T18:00","mx":6.50,"mn":2.50,"mw":3.92,"q":3.57},
{"t":"2026-03-08T00:00","mx":6.10,"mn":2.50,"mw":3.88,"q":3.28},
{"t":"2026-03-08T06:00","mx":5.85,"mn":2.50,"mw":3.84,"q":3.20},
{"t":"2026-03-08T12:00","mx":5.77,"mn":2.50,"mw":3.86,"q":3.32},
{"t":"2026-03-08T18:00","mx":6.65,"mn":2.50,"mw":4.08,"q":3.52},
{"t":"2026-03-08T22:00","mx":7.22,"mn":2.50,"mw":4.02,"q":3.38},
{"t":"2026-03-09T00:00","mx":7.15,"mn":2.50,"mw":3.98,"q":3.30},
{"t":"2026-03-09T06:00","mx":7.06,"mn":2.50,"mw":3.94,"q":3.22},
{"t":"2026-03-09T12:00","mx":7.15,"mn":2.50,"mw":4.00,"q":3.32},
{"t":"2026-03-09T15:00","mx":7.22,"mn":2.50,"mw":4.08,"q":3.40},
{"t":"2026-03-09T18:00","mx":7.00,"mn":2.50,"mw":4.16,"q":3.44},
{"t":"2026-03-10T00:00","mx":6.75,"mn":2.50,"mw":4.08,"q":3.25},
{"t":"2026-03-10T06:00","mx":6.35,"mn":2.50,"mw":4.00,"q":3.20},
{"t":"2026-03-10T12:00","mx":6.01,"mn":2.50,"mw":4.02,"q":3.30},
{"t":"2026-03-10T18:00","mx":6.25,"mn":2.50,"mw":4.18,"q":3.44},
{"t":"2026-03-11T00:00","mx":6.05,"mn":2.50,"mw":4.12,"q":3.30},
{"t":"2026-03-11T06:00","mx":6.05,"mn":2.50,"mw":4.06,"q":3.25},
{"t":"2026-03-11T12:00","mx":6.10,"mn":2.50,"mw":4.10,"q":3.45},
{"t":"2026-03-11T16:00","mx":6.60,"mn":2.50,"mw":4.20,"q":3.79},
{"t":"2026-03-11T20:00","mx":7.30,"mn":2.50,"mw":4.30,"q":3.70},
{"t":"2026-03-12T00:00","mx":6.60,"mn":2.50,"mw":4.22,"q":3.45},
{"t":"2026-03-12T06:00","mx":6.50,"mn":2.50,"mw":4.14,"q":3.30},
{"t":"2026-03-12T12:00","mx":6.57,"mn":2.50,"mw":4.10,"q":3.35},
{"t":"2026-03-12T18:00","mx":7.54,"mn":2.52,"mw":4.32,"q":3.50},
{"t":"2026-03-13T00:00","mx":7.62,"mn":2.55,"mw":4.25,"q":3.35},
{"t":"2026-03-13T02:00","mx":7.90,"mn":2.72,"mw":4.22,"q":3.30},
{"t":"2026-03-13T05:00","mx":9.31,"mn":2.65,"mw":4.20,"q":3.20},
{"t":"2026-03-13T11:00","mx":8.10,"mn":2.50,"mw":4.15,"q":3.30},
{"t":"2026-03-13T18:00","mx":7.54,"mn":2.50,"mw":4.25,"q":3.63},
{"t":"2026-03-14T00:00","mx":7.40,"mn":2.50,"mw":4.20,"q":3.40},
{"t":"2026-03-14T04:00","mx":7.14,"mn":2.50,"mw":4.16,"q":3.30},
{"t":"2026-03-14T06:00","mx":7.30,"mn":2.50,"mw":4.15,"q":3.28},
{"t":"2026-03-14T12:00","mx":7.30,"mn":2.50,"mw":4.18,"q":3.40},
{"t":"2026-03-14T18:00","mx":7.10,"mn":2.50,"mw":4.32,"q":3.63},
{"t":"2026-03-15T00:00","mx":6.90,"mn":2.50,"mw":4.26,"q":3.45},
{"t":"2026-03-15T06:00","mx":6.85,"mn":2.50,"mw":4.20,"q":3.38},
{"t":"2026-03-15T12:00","mx":6.82,"mn":2.52,"mw":4.22,"q":3.40},
{"t":"2026-03-15T18:00","mx":7.14,"mn":2.72,"mw":4.34,"q":3.45},
{"t":"2026-03-16T00:00","mx":7.00,"mn":2.55,"mw":4.28,"q":3.35},
{"t":"2026-03-16T06:00","mx":6.85,"mn":2.50,"mw":4.22,"q":3.30},
{"t":"2026-03-16T12:00","mx":6.78,"mn":2.50,"mw":4.24,"q":3.32},
{"t":"2026-03-16T19:00","mx":7.49,"mn":2.85,"mw":4.43,"q":3.30},
{"t":"2026-03-17T00:00","mx":7.40,"mn":2.80,"mw":4.38,"q":3.25},
{"t":"2026-03-17T06:00","mx":7.45,"mn":2.75,"mw":4.30,"q":3.22},
{"t":"2026-03-17T12:00","mx":7.30,"mn":2.78,"mw":4.34,"q":3.25},
{"t":"2026-03-17T18:00","mx":7.40,"mn":2.89,"mw":4.50,"q":3.30},
{"t":"2026-03-18T00:00","mx":7.50,"mn":2.85,"mw":4.45,"q":3.20},
{"t":"2026-03-18T06:00","mx":7.10,"mn":2.75,"mw":4.40,"q":3.15},
{"t":"2026-03-18T12:00","mx":7.30,"mn":2.80,"mw":4.45,"q":3.18},
{"t":"2026-03-18T18:00","mx":7.60,"mn":2.90,"mw":4.62,"q":3.22},
{"t":"2026-03-19T00:00","mx":7.70,"mn":2.85,"mw":4.55,"q":3.12},
{"t":"2026-03-19T06:00","mx":7.65,"mn":2.80,"mw":4.48,"q":3.08},
{"t":"2026-03-19T12:00","mx":7.60,"mn":2.75,"mw":4.50,"q":3.10},
{"t":"2026-03-19T18:00","mx":8.10,"mn":2.80,"mw":4.75,"q":3.15},
{"t":"2026-03-20T00:00","mx":8.80,"mn":2.90,"mw":4.85,"q":3.05},
{"t":"2026-03-20T06:00","mx":7.80,"mn":2.95,"mw":4.72,"q":3.00},
{"t":"2026-03-20T09:00","mx":7.60,"mn":2.95,"mw":4.68,"q":2.98},
{"t":"2026-03-20T12:00","mx":8.00,"mn":2.90,"mw":4.66,"q":3.00},
{"t":"2026-03-20T18:00","mx":8.60,"mn":2.80,"mw":4.88,"q":3.02},
{"t":"2026-03-21T00:00","mx":8.30,"mn":2.75,"mw":4.82,"q":2.98},
{"t":"2026-03-21T06:00","mx":8.00,"mn":2.80,"mw":4.72,"q":2.95},
{"t":"2026-03-21T12:00","mx":7.80,"mn":2.85,"mw":4.65,"q":2.96},
{"t":"2026-03-21T18:00","mx":8.90,"mn":2.88,"mw":4.90,"q":3.00},
{"t":"2026-03-22T00:00","mx":8.70,"mn":2.90,"mw":4.88,"q":2.95},
{"t":"2026-03-22T06:00","mx":8.40,"mn":2.88,"mw":4.80,"q":2.95},
{"t":"2026-03-22T10:00","mx":8.30,"mn":2.86,"mw":4.75,"q":3.18},
{"t":"2026-03-22T12:00","mx":8.50,"mn":2.86,"mw":4.78,"q":2.98},
{"t":"2026-03-22T18:00","mx":9.00,"mn":2.85,"mw":5.00,"q":2.95},
{"t":"2026-03-22T22:00","mx":9.30,"mn":2.85,"mw":5.07,"q":2.92},
{"t":"2026-03-23T00:00","mx":9.40,"mn":2.86,"mw":5.05,"q":2.92},
{"t":"2026-03-23T04:00","mx":9.80,"mn":2.88,"mw":4.95,"q":2.90},
{"t":"2026-03-23T06:00","mx":9.30,"mn":2.88,"mw":4.85,"q":2.90},
{"t":"2026-03-23T12:00","mx":9.10,"mn":2.90,"mw":4.70,"q":2.90},
{"t":"2026-03-23T18:00","mx":9.00,"mn":2.90,"mw":4.90,"q":2.90},
{"t":"2026-03-23T22:00","mx":9.40,"mn":2.90,"mw":5.08,"q":2.88},
{"t":"2026-03-24T00:00","mx":9.30,"mn":2.90,"mw":5.05,"q":2.88},
{"t":"2026-03-24T06:00","mx":9.00,"mn":2.88,"mw":4.90,"q":2.87},
{"t":"2026-03-24T12:00","mx":8.80,"mn":2.86,"mw":4.80,"q":2.86},
{"t":"2026-03-24T17:00","mx":8.80,"mn":2.86,"mw":4.95,"q":2.35},
{"t":"2026-03-24T18:00","mx":10.50,"mn":3.20,"mw":5.05,"q":2.85},
{"t":"2026-03-24T21:00","mx":12.20,"mn":3.23,"mw":5.20,"q":2.90},
{"t":"2026-03-25T00:00","mx":11.80,"mn":3.20,"mw":5.25,"q":2.88},
{"t":"2026-03-25T06:00","mx":11.20,"mn":3.18,"mw":5.10,"q":2.86},
{"t":"2026-03-25T12:00","mx":10.90,"mn":3.16,"mw":5.00,"q":2.85},
{"t":"2026-03-25T14:00","mx":11.70,"mn":3.16,"mw":5.00,"q":3.00},
{"t":"2026-03-25T19:00","mx":10.80,"mn":3.15,"mw":5.15,"q":3.70},
{"t":"2026-03-26T00:00","mx":10.60,"mn":3.15,"mw":5.15,"q":3.30},
{"t":"2026-03-26T06:00","mx":10.20,"mn":3.13,"mw":5.05,"q":3.15},
{"t":"2026-03-26T12:00","mx":9.90,"mn":3.12,"mw":4.98,"q":3.10},
{"t":"2026-03-26T18:00","mx":9.85,"mn":3.10,"mw":5.10,"q":3.05},
{"t":"2026-03-27T00:00","mx":9.80,"mn":3.10,"mw":5.20,"q":3.00},
{"t":"2026-03-27T06:00","mx":9.75,"mn":3.12,"mw":5.05,"q":2.92},
{"t":"2026-03-27T12:00","mx":9.70,"mn":3.14,"mw":4.98,"q":2.88},
{"t":"2026-03-27T18:00","mx":9.40,"mn":3.15,"mw":5.12,"q":2.90},
{"t":"2026-03-28T00:00","mx":9.20,"mn":3.15,"mw":5.20,"q":2.82},
{"t":"2026-03-28T06:00","mx":9.05,"mn":3.18,"mw":5.05,"q":2.85},
{"t":"2026-03-28T12:00","mx":8.95,"mn":3.20,"mw":5.00,"q":2.88},
{"t":"2026-03-28T18:00","mx":8.90,"mn":3.25,"mw":5.20,"q":2.92},
{"t":"2026-03-29T00:00","mx":8.85,"mn":3.28,"mw":5.30,"q":2.86},
{"t":"2026-03-29T06:00","mx":8.80,"mn":3.30,"mw":5.15,"q":2.84},
{"t":"2026-03-29T12:00","mx":8.70,"mn":3.20,"mw":5.05,"q":2.82},
{"t":"2026-03-29T18:00","mx":8.60,"mn":3.15,"mw":5.20,"q":2.85},
{"t":"2026-03-30T00:00","mx":8.85,"mn":3.10,"mw":5.25,"q":2.80},
{"t":"2026-03-30T06:00","mx":9.10,"mn":3.08,"mw":5.10,"q":2.80},
{"t":"2026-03-30T12:00","mx":9.00,"mn":3.05,"mw":5.05,"q":2.82},
{"t":"2026-03-30T18:00","mx":8.90,"mn":3.02,"mw":5.30,"q":2.85},
{"t":"2026-03-31T00:00","mx":8.75,"mn":3.00,"mw":5.40,"q":2.80},
{"t":"2026-03-31T06:00","mx":8.60,"mn":3.02,"mw":5.25,"q":2.78},
{"t":"2026-03-31T12:00","mx":8.35,"mn":3.05,"mw":5.15,"q":2.75},
{"t":"2026-03-31T18:00","mx":8.60,"mn":3.10,"mw":5.45,"q":2.72},
{"t":"2026-03-31T21:00","mx":8.50,"mn":3.10,"mw":5.60,"q":2.70}
]
},
"vconcat": [
 {"hconcat": [
  {"width": 550, "height": 276, "title": {"text": ["Steeg / Lech", "Abfluss"]}, "data": {"name": "s"},
   "encoding": {"x": {"field": "t", "type": "temporal", "title": null, "scale": {"nice": false, "domain": [{"year": 2026, "month": 3, "date": 1}, {"year": 2026, "month": 3, "date": 31, "hours": 21}]}, "axis": {"tickCount": {"interval": "day", "step": 1}, "labelExpr": "indexof([1,5,10,15,20,25,31], date(datum.value)) >= 0 ? timeFormat(datum.value, '%d. Mär') : ''", "labelOverlap": false, "labelFlush": false, "labelBound": false, "gridColor": {"condition": {"test": "indexof([1,5,10,15,20,25,31], date(datum.value)) >= 0", "value": "#e2e2e2"}, "value": "#efefef"}, "tickOpacity": {"condition": {"test": "indexof([1,5,10,15,20,25,31], date(datum.value)) >= 0", "value": 1}, "value": 0}}}},
   "layer": [
    {"mark": {"type": "area", "color": "#a6a6a6", "opacity": 0.5}, "encoding": {"y": {"field": "mn", "type": "quantitative", "title": "m³/s", "scale": {"domain": [0, 148.83], "nice": false}, "axis": {"values": [0,25,50,75,100,125], "labelExpr": "datum.value % 50 == 0 ? datum.label : ''", "gridColor": {"condition": {"test": "datum.value % 50 == 0", "value": "#e2e2e2"}, "value": "#efefef"}, "tickOpacity": {"condition": {"test": "datum.value % 50 == 0", "value": 1}, "value": 0}, "titlePadding": 6}}, "y2": {"field": "mx"}}},
    {"mark": {"type": "line", "strokeWidth": 1.3}, "encoding": {"y": {"field": "mw", "type": "quantitative", "title": "m³/s"}, "color": {"datum": "D", "type": "nominal", "scale": {"domain": ["A","B","C","D"], "range": ["#000000","#ff0000","#0000ff","#a6a6a6"]}, "legend": {"orient": "none", "legendX": 16, "legendY": -42, "title": null, "labelExpr": "datum.label == 'A' ? ['Abfluss März 2026', 'Mit =\u00a0 4.6\u00a0 m³/s'] : datum.label == 'B' ? ['Maxima 1991 - 2020', 'Max =\u00a0 135.3\u00a0 m³/s'] : datum.label == 'C' ? ['Minima 1991 - 2020', 'Min =\u00a0 1.5\u00a0 m³/s'] : ['Mittel 1991 - 2020', 'Mit =\u00a0 6.6\u00a0 m³/s']"}}}},
    {"mark": {"type": "line", "strokeWidth": 1.3}, "encoding": {"y": {"field": "mx", "type": "quantitative", "title": "m³/s"}, "color": {"datum": "B", "type": "nominal", "scale": {"domain": ["A","B","C","D"], "range": ["#000000","#ff0000","#0000ff","#a6a6a6"]}}}},
    {"mark": {"type": "line", "strokeWidth": 1.3}, "encoding": {"y": {"field": "mn", "type": "quantitative", "title": "m³/s"}, "color": {"datum": "C", "type": "nominal", "scale": {"domain": ["A","B","C","D"], "range": ["#000000","#ff0000","#0000ff","#a6a6a6"]}}}},
    {"mark": {"type": "line", "strokeWidth": 2.2}, "encoding": {"y": {"field": "q", "type": "quantitative", "title": "m³/s"}, "color": {"datum": "A", "type": "nominal", "scale": {"domain": ["A","B","C","D"], "range": ["#000000","#ff0000","#0000ff","#a6a6a6"]}}}}
   ]},
  {"width": 563, "height": 276, "title": {"text": ["Huben / Ötztaler Ache", "Abfluss"]}, "data": {"name": "h"},
   "encoding": {"x": {"field": "t", "type": "temporal", "title": null, "scale": {"nice": false, "domain": [{"year": 2026, "month": 3, "date": 1}, {"year": 2026, "month": 3, "date": 31, "hours": 21}]}, "axis": {"tickCount": {"interval": "day", "step": 1}, "labelExpr": "indexof([1,5,10,15,20,25,31], date(datum.value)) >= 0 ? timeFormat(datum.value, '%d. Mär') : ''", "labelOverlap": false, "labelFlush": false, "labelBound": false, "gridColor": {"condition": {"test": "indexof([1,5,10,15,20,25,31], date(datum.value)) >= 0", "value": "#e2e2e2"}, "value": "#efefef"}, "tickOpacity": {"condition": {"test": "indexof([1,5,10,15,20,25,31], date(datum.value)) >= 0", "value": 1}, "value": 0}}}},
   "layer": [
    {"mark": {"type": "area", "color": "#a6a6a6", "opacity": 0.5}, "encoding": {"y": {"field": "mn", "type": "quantitative", "title": "m³/s", "scale": {"domain": [0, 11.66], "nice": false}, "axis": {"values": [0,1.5,3,4.5,6,7.5,9,10.5], "labelExpr": "datum.value % 3 == 0 ? datum.label : ''", "gridColor": {"condition": {"test": "datum.value % 3 == 0", "value": "#e2e2e2"}, "value": "#efefef"}, "tickOpacity": {"condition": {"test": "datum.value % 3 == 0", "value": 1}, "value": 0}, "titlePadding": 6}}, "y2": {"field": "mx"}}},
    {"mark": {"type": "line", "strokeWidth": 1.3}, "encoding": {"y": {"field": "mw", "type": "quantitative", "title": "m³/s"}, "color": {"datum": "D", "type": "nominal", "scale": {"domain": ["A","B","C","D"], "range": ["#000000","#ff0000","#0000ff","#a6a6a6"]}, "legend": {"orient": "none", "legendX": 21, "legendY": -42, "title": null, "labelExpr": "datum.label == 'A' ? ['Abfluss März 2026', 'Mit =\u00a0 2.8\u00a0 m³/s'] : datum.label == 'B' ? ['Maxima 1991 - 2020', 'Max =\u00a0 10.6\u00a0 m³/s'] : datum.label == 'C' ? ['Minima 1991 - 2020', 'Min =\u00a0 1.4\u00a0 m³/s'] : ['Mittel 1991 - 2020', 'Mit =\u00a0 3.2\u00a0 m³/s']"}}}},
    {"mark": {"type": "line", "strokeWidth": 1.3}, "encoding": {"y": {"field": "mx", "type": "quantitative", "title": "m³/s"}, "color": {"datum": "B", "type": "nominal", "scale": {"domain": ["A","B","C","D"], "range": ["#000000","#ff0000","#0000ff","#a6a6a6"]}}}},
    {"mark": {"type": "line", "strokeWidth": 1.3}, "encoding": {"y": {"field": "mn", "type": "quantitative", "title": "m³/s"}, "color": {"datum": "C", "type": "nominal", "scale": {"domain": ["A","B","C","D"], "range": ["#000000","#ff0000","#0000ff","#a6a6a6"]}}}},
    {"mark": {"type": "line", "strokeWidth": 2.2}, "encoding": {"y": {"field": "q", "type": "quantitative", "title": "m³/s"}, "color": {"datum": "A", "type": "nominal", "scale": {"domain": ["A","B","C","D"], "range": ["#000000","#ff0000","#0000ff","#a6a6a6"]}}}}
   ]}
 ], "spacing": 41, "bounds": "flush", "resolve": {"scale": {"color": "independent"}, "legend": {"color": "independent"}}},
 {"hconcat": [
  {"width": 550, "height": 277, "title": {"text": ["Innsbruck (oberh. Sill) / Inn", "Abfluss"]}, "data": {"name": "i"},
   "encoding": {"x": {"field": "t", "type": "temporal", "title": null, "scale": {"nice": false, "domain": [{"year": 2026, "month": 3, "date": 1}, {"year": 2026, "month": 3, "date": 31, "hours": 21}]}, "axis": {"tickCount": {"interval": "day", "step": 1}, "labelExpr": "indexof([1,5,10,15,20,25,31], date(datum.value)) >= 0 ? timeFormat(datum.value, '%d. Mär') : ''", "labelOverlap": false, "labelFlush": false, "labelBound": false, "gridColor": {"condition": {"test": "indexof([1,5,10,15,20,25,31], date(datum.value)) >= 0", "value": "#e2e2e2"}, "value": "#efefef"}, "tickOpacity": {"condition": {"test": "indexof([1,5,10,15,20,25,31], date(datum.value)) >= 0", "value": 1}, "value": 0}}}},
   "layer": [
    {"mark": {"type": "area", "color": "#a6a6a6", "opacity": 0.5}, "encoding": {"y": {"field": "mn", "type": "quantitative", "title": "m³/s", "scale": {"domain": [0, 263.23], "nice": false}, "axis": {"values": [0,25,50,75,100,125,150,175,200,225,250], "labelExpr": "datum.value % 50 == 0 ? datum.label : ''", "gridColor": {"condition": {"test": "datum.value % 50 == 0", "value": "#e2e2e2"}, "value": "#efefef"}, "tickOpacity": {"condition": {"test": "datum.value % 50 == 0", "value": 1}, "value": 0}, "titlePadding": 6}}, "y2": {"field": "mx"}}},
    {"mark": {"type": "line", "strokeWidth": 1.3}, "encoding": {"y": {"field": "mw", "type": "quantitative", "title": "m³/s"}, "color": {"datum": "D", "type": "nominal", "scale": {"domain": ["A","B","C","D"], "range": ["#000000","#ff0000","#0000ff","#a6a6a6"]}, "legend": {"orient": "none", "legendX": 16, "legendY": -42, "title": null, "labelExpr": "datum.label == 'A' ? ['Abfluss März 2026', 'Mit =\u00a0 66.8\u00a0 m³/s'] : datum.label == 'B' ? ['Maxima 1991 - 2020', 'Max =\u00a0 239.3\u00a0 m³/s'] : datum.label == 'C' ? ['Minima 1991 - 2020', 'Min =\u00a0 25.7\u00a0 m³/s'] : ['Mittel 1991 - 2020', 'Mit =\u00a0 77.3\u00a0 m³/s']"}}}},
    {"mark": {"type": "line", "strokeWidth": 1.3}, "encoding": {"y": {"field": "mx", "type": "quantitative", "title": "m³/s"}, "color": {"datum": "B", "type": "nominal", "scale": {"domain": ["A","B","C","D"], "range": ["#000000","#ff0000","#0000ff","#a6a6a6"]}}}},
    {"mark": {"type": "line", "strokeWidth": 1.3}, "encoding": {"y": {"field": "mn", "type": "quantitative", "title": "m³/s"}, "color": {"datum": "C", "type": "nominal", "scale": {"domain": ["A","B","C","D"], "range": ["#000000","#ff0000","#0000ff","#a6a6a6"]}}}},
    {"mark": {"type": "line", "strokeWidth": 2.2}, "encoding": {"y": {"field": "q", "type": "quantitative", "title": "m³/s"}, "color": {"datum": "A", "type": "nominal", "scale": {"domain": ["A","B","C","D"], "range": ["#000000","#ff0000","#0000ff","#a6a6a6"]}}}}
   ]},
  {"width": 557, "height": 277, "title": {"text": ["Puig / Sill", "Abfluss"]}, "data": {"name": "p"},
   "encoding": {"x": {"field": "t", "type": "temporal", "title": null, "scale": {"nice": false, "domain": [{"year": 2026, "month": 3, "date": 1}, {"year": 2026, "month": 3, "date": 31, "hours": 21}]}, "axis": {"tickCount": {"interval": "day", "step": 1}, "labelExpr": "indexof([1,5,10,15,20,25,31], date(datum.value)) >= 0 ? timeFormat(datum.value, '%d. Mär') : ''", "labelOverlap": false, "labelFlush": false, "labelBound": false, "gridColor": {"condition": {"test": "indexof([1,5,10,15,20,25,31], date(datum.value)) >= 0", "value": "#e2e2e2"}, "value": "#efefef"}, "tickOpacity": {"condition": {"test": "indexof([1,5,10,15,20,25,31], date(datum.value)) >= 0", "value": 1}, "value": 0}}}},
   "layer": [
    {"mark": {"type": "area", "color": "#a6a6a6", "opacity": 0.5}, "encoding": {"y": {"field": "mn", "type": "quantitative", "title": "m³/s", "scale": {"domain": [0, 13.42], "nice": false}, "axis": {"values": [0,2.5,5,7.5,10,12.5], "labelExpr": "datum.value % 5 == 0 ? datum.label : ''", "gridColor": {"condition": {"test": "datum.value % 5 == 0", "value": "#e2e2e2"}, "value": "#efefef"}, "tickOpacity": {"condition": {"test": "datum.value % 5 == 0", "value": 1}, "value": 0}, "titlePadding": 6}}, "y2": {"field": "mx"}}},
    {"mark": {"type": "line", "strokeWidth": 1.3}, "encoding": {"y": {"field": "mw", "type": "quantitative", "title": "m³/s"}, "color": {"datum": "D", "type": "nominal", "scale": {"domain": ["A","B","C","D"], "range": ["#000000","#ff0000","#0000ff","#a6a6a6"]}, "legend": {"orient": "none", "legendX": 18, "legendY": -42, "title": null, "labelExpr": "datum.label == 'A' ? ['Abfluss März 2026', 'Mit =\u00a0 3.1\u00a0 m³/s'] : datum.label == 'B' ? ['Maxima 1991 - 2020', 'Max =\u00a0 12.2\u00a0 m³/s'] : datum.label == 'C' ? ['Minima 1991 - 2020', 'Min =\u00a0 2.3\u00a0 m³/s'] : ['Mittel 1991 - 2020', 'Mit =\u00a0 4.4\u00a0 m³/s']"}}}},
    {"mark": {"type": "line", "strokeWidth": 1.3}, "encoding": {"y": {"field": "mx", "type": "quantitative", "title": "m³/s"}, "color": {"datum": "B", "type": "nominal", "scale": {"domain": ["A","B","C","D"], "range": ["#000000","#ff0000","#0000ff","#a6a6a6"]}}}},
    {"mark": {"type": "line", "strokeWidth": 1.3}, "encoding": {"y": {"field": "mn", "type": "quantitative", "title": "m³/s"}, "color": {"datum": "C", "type": "nominal", "scale": {"domain": ["A","B","C","D"], "range": ["#000000","#ff0000","#0000ff","#a6a6a6"]}}}},
    {"mark": {"type": "line", "strokeWidth": 2.2}, "encoding": {"y": {"field": "q", "type": "quantitative", "title": "m³/s"}, "color": {"datum": "A", "type": "nominal", "scale": {"domain": ["A","B","C","D"], "range": ["#000000","#ff0000","#0000ff","#a6a6a6"]}}}}
   ]}
 ], "spacing": 48, "bounds": "flush", "resolve": {"scale": {"color": "independent"}, "legend": {"color": "independent"}}}
],
"spacing": 407,
"bounds": "flush",
"resolve": {"scale": {"color": "independent"}, "legend": {"color": "independent"}}
}
